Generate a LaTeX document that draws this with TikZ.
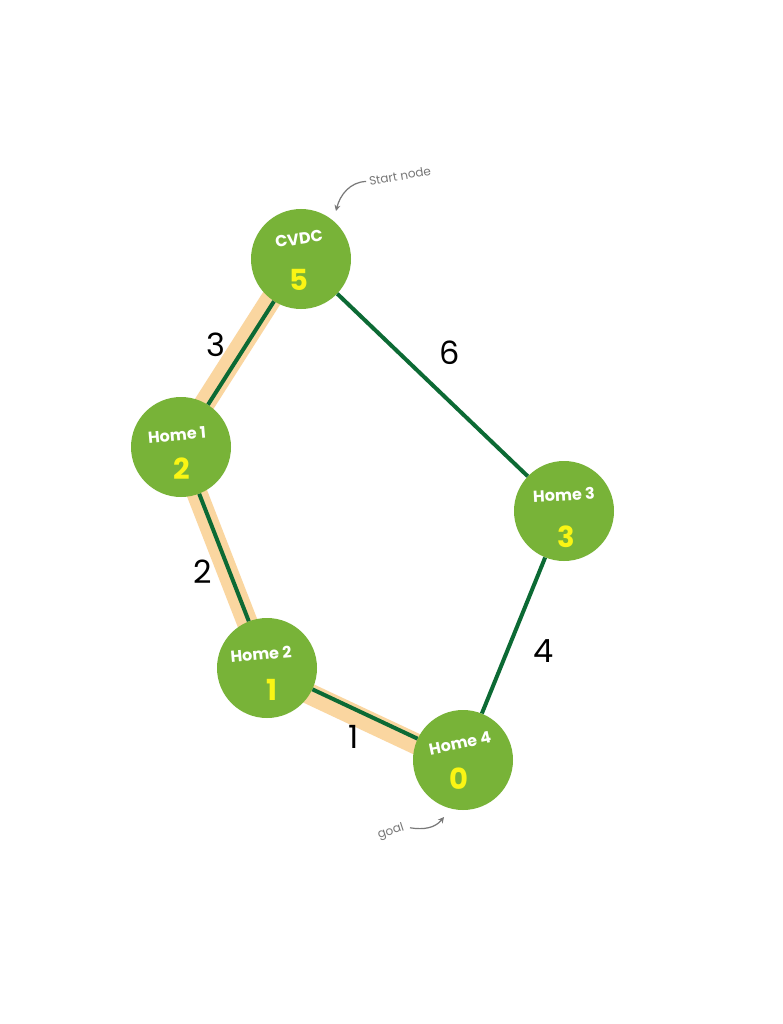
\documentclass[tikz,border=0pt]{standalone}
\usepackage{fontspec}
\setmainfont{Poppins}
\usetikzlibrary{arrows.meta}
\definecolor{nodegreen}{RGB}{120,179,56}
\definecolor{edgegreen}{RGB}{12,106,52}
\definecolor{bandorange}{RGB}{250,214,160}
\definecolor{numyellow}{RGB}{250,245,20}
\definecolor{notegray}{RGB}{120,120,120}
\tikzset{
  spot/.style={circle, fill=nodegreen, minimum size=100pt, inner sep=0pt},
  road/.style={draw=edgegreen, line width=4pt},
  pathband/.style={draw=bandorange, line width=21pt},
  spotname/.style={text=white, inner sep=0pt, font=\bfseries\fontsize{16}{16}\selectfont},
  spotnum/.style={text=numyellow, inner sep=0pt, font=\bfseries\fontsize{29}{29}\selectfont},
  roadcost/.style={text=black, font=\fontsize{32}{32}\selectfont},
  notetext/.style={text=notegray, inner sep=0pt, font=\fontsize{12}{12}\selectfont},
  notearrow/.style={draw=notegray, line width=1.2pt, -{Stealth[length=6pt,width=6pt]}},
}
\begin{document}
\begin{tikzpicture}[x=1pt, y=-1pt]
\useasboundingbox (0,0) rectangle (783,1024);
\fill[white] (0,0) rectangle (783,1024);

% node positions
\coordinate (pc) at (301,259);
\coordinate (p1) at (181,447);
\coordinate (p2) at (267,668);
\coordinate (p3) at (564,511);
\coordinate (p4) at (463,760);

% highlighted path behind everything
\draw[pathband] ([shift={(-3,-2)}]pc) -- ([shift={(-3,-2)}]p1);
\draw[pathband] ([shift={(-2,0)}]p1) -- ([shift={(-2,0)}]p2);
\draw[pathband] ([shift={(-2,5)}]p2) -- ([shift={(-2,5)}]p4);

% places
\node[spot] (cvdc) at (pc) {};
\node[spot] (home1) at (p1) {};
\node[spot] (home2) at (p2) {};
\node[spot] (home3) at (p3) {};
\node[spot] (home4) at (p4) {};

% roads
\draw[road] (cvdc) -- (home1);
\draw[road] (home1) -- (home2);
\draw[road] (home2) -- (home4);
\draw[road] (cvdc) -- (home3);
\draw[road] (home3) -- (home4);

% place labels
\node[spotname, rotate=8] (tc) at ([shift={(-2,-20)}]pc) {CVDC};
\node[spotnum] (nc) at ([shift={(-2,21)}]pc) {5};
\node[spotname, rotate=5] (t1) at ([shift={(-4,-12)}]p1) {Home 1};
\node[spotnum] (n1) at ([shift={(1,22)}]p1) {2};
\node[spotname, rotate=3] (t3) at ([shift={(0,-16)}]p3) {Home 3};
\node[spotnum] (n3) at ([shift={(2,26)}]p3) {3};
\node[spotname, rotate=5] (t2) at ([shift={(-6,-14)}]p2) {Home 2};
\node[spotnum] (n2) at ([shift={(5,22)}]p2) {1};
\node[spotname, rotate=12] (t4) at ([shift={(-3,-17)}]p4) {Home 4};
\node[spotnum] (n4) at ([shift={(-4,19)}]p4) {0};

% road costs
\node[roadcost] (w3) at (216,345) {3};
\node[roadcost] (w6) at (450,353) {6};
\node[roadcost] (w2) at (203,572) {2};
\node[roadcost] (w4) at (544,651) {4};
\node[roadcost] (w1) at (354,737) {1};

% notes
\node[notetext, rotate=10] (start) at (400,176) {Start node};
\coordinate (starttip) at (336,211);
\draw[notearrow] ([xshift=-3pt]start.west) .. controls (350,182) and (340,195) .. (starttip);
\node[notetext, rotate=18] (goal) at (391,832) {goal};
\coordinate (goaltip) at (444,817);
\draw[notearrow] ([xshift=6pt]goal.east) .. controls (424,830) and (435,828) .. (goaltip);
\end{tikzpicture}
\end{document}
